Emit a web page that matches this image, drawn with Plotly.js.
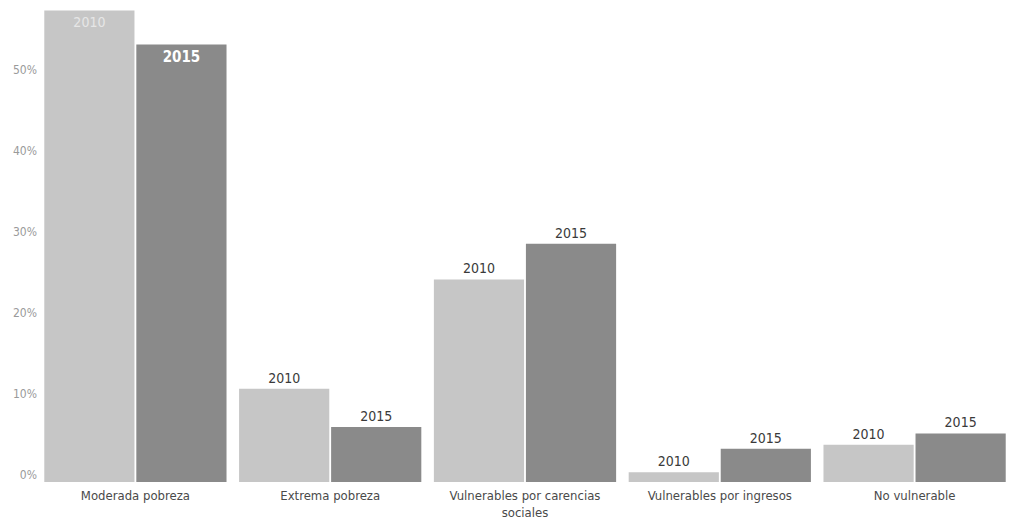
<!DOCTYPE html>
<html>
<head>
<meta charset="utf-8">
<script src="https://cdn.plot.ly/plotly-3.0.1.min.js"></script>
<style>html,body{margin:0;padding:0;background:#fff;}#chart{width:1012px;height:524px;}</style>
</head>
<body>
<div id="chart"></div>
<script>
const categories = ["Moderada pobreza", "Extrema pobreza", "Vulnerables por carencias<br>sociales", "Vulnerables por ingresos", "No vulnerable"];
const years = ["2010", "2015"];
const values2010 = [58.2, 11.5, 25.0, 1.2, 4.6];
const values2015 = [54.0, 6.8, 29.4, 4.1, 6.0];
const yTicks = [0, 10, 20, 30, 40, 50];
const yTickLabels = ["0%", "10%", "20%", "30%", "40%", "50%"];

const font = "'DejaVu Sans Condensed', 'Liberation Sans', Arial, sans-serif";

function pos(vals) { return vals.map((v, i) => i === 0 ? "inside" : "outside"); }

const t2010 = {
  type: "bar", name: years[0], x: categories, y: values2010,
  text: values2010.map(() => years[0]),
  textposition: pos(values2010), insidetextanchor: "end", textangle: 0,
  constraintext: "none", cliponaxis: false,
  insidetextfont: {family: font, size: 14, color: "#e6e6e6"},
  outsidetextfont: {family: font, size: 14, color: "#3a3a3a"},
  marker: {color: "#c6c6c6"}, hoverinfo: "none"
};
const t2015 = {
  type: "bar", name: years[1], x: categories, y: values2015,
  text: values2015.map(() => years[1]),
  textposition: pos(values2015), insidetextanchor: "end", textangle: 0,
  constraintext: "none", cliponaxis: false,
  insidetextfont: {family: font, size: 15, color: "#ffffff", weight: "bold"},
  outsidetextfont: {family: font, size: 14, color: "#3a3a3a"},
  marker: {color: "#8a8a8a"}, hoverinfo: "none"
};

const layout = {
  width: 1012, height: 524,
  margin: {l: 38, r: 0, t: 0, b: 42, pad: 0},
  paper_bgcolor: "#ffffff", plot_bgcolor: "#ffffff",
  barmode: "group", bargap: 0.055, bargroupgap: 0.02,
  showlegend: false,
  xaxis: {
    showgrid: false, zeroline: false, showline: false, ticks: "",
    tickfont: {family: font, size: 13, color: "#4a4a4a"},
    ticklabelstandoff: 4,
    automargin: false
  },
  yaxis: {
    range: [0, 59.5], showgrid: false, zeroline: false, showline: false, ticks: "",
    tickvals: yTicks, ticktext: yTickLabels, ticklabelshift: -7,
    tickfont: {family: font, size: 12, color: "#9a9a9a"},
    automargin: false
  },
  font: {family: font}
};

Plotly.newPlot("chart", [t2010, t2015], layout, {displayModeBar: false, staticPlot: true});
</script>
</body>
</html>
